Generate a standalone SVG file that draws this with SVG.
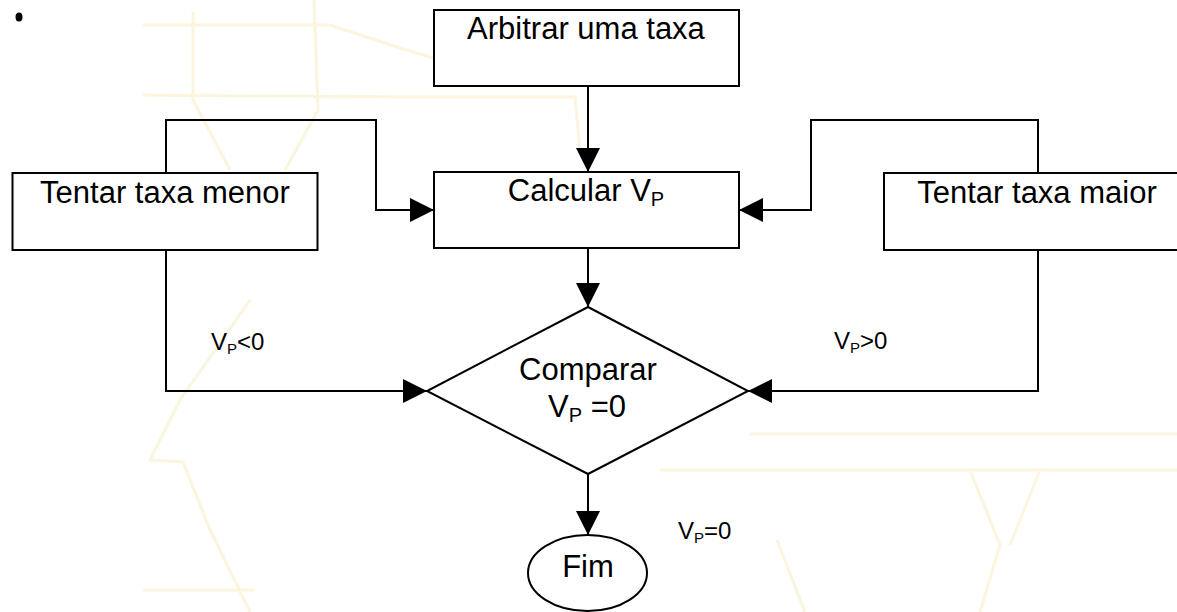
<svg xmlns="http://www.w3.org/2000/svg" width="1177" height="612" viewBox="0 0 1177 612">
<style>
  .box { fill: #ffffff; stroke: #000000; stroke-width: 2; }
  .line { fill: none; stroke: #000000; stroke-width: 2; }
  .t { font-family: "Liberation Sans", Arial, sans-serif; font-size: 31px; fill: #000000; }
  .s { font-family: "Liberation Sans", Arial, sans-serif; font-size: 24px; fill: #000000; }
  .wm { fill: none; stroke: #fbf5dd; stroke-width: 3; }
</style>
<defs>
  <marker id="arrow" markerUnits="userSpaceOnUse" markerWidth="24" markerHeight="24" refX="24" refY="12" orient="auto">
    <path d="M0,0 L24,12 L0,24 Z" fill="#000000"/>
  </marker>
</defs>
<rect x="0" y="0" width="1177" height="612" fill="#ffffff"/>
<g id="watermark">
  <path class="wm" d="M143,25 L330,25 L400,48 L433,58"/>
  <path class="wm" d="M143,95 L400,97 L575,97 L580,150"/>
  <path class="wm" d="M193,12 L193,100 L230,170"/>
  <path class="wm" d="M314,0 L318,110 L285,170"/>
  <path class="wm" d="M250,300 L180,400 L150,460 L183,462 L210,530 L250,612"/>
  <path class="wm" d="M143,590 L255,590"/>
  <path class="wm" d="M750,434 L1177,434"/>
  <path class="wm" d="M660,470 L1177,470"/>
  <path class="wm" d="M970,470 L1000,545 L980,612"/>
  <path class="wm" d="M1040,470 L1010,545"/>
  <path class="wm" d="M777,540 L805,612"/>
</g>
<ellipse id="bullet" cx="19" cy="17" rx="3.5" ry="4.5" fill="#000000"/>
<g id="connectors">
  <path class="line" d="M588,86 L588,172" marker-end="url(#arrow)"/>
  <path class="line" d="M588,248 L588,307" marker-end="url(#arrow)"/>
  <path class="line" d="M588,474 L588,535" marker-end="url(#arrow)"/>
  <path class="line" d="M166,173 L166,120 L376,120 L376,210 L434,210" marker-end="url(#arrow)"/>
  <path class="line" d="M166,250 L166,391 L427,391" marker-end="url(#arrow)"/>
  <path class="line" d="M1038,173 L1038,120 L811,120 L811,210 L739,210" marker-end="url(#arrow)"/>
  <path class="line" d="M1038,250 L1038,391 L748,391" marker-end="url(#arrow)"/>
  <text class="s" x="211" y="350">V<tspan font-size="15" dy="4">P</tspan><tspan dy="-4">&lt;0</tspan></text>
  <text class="s" x="834" y="349">V<tspan font-size="15" dy="4">P</tspan><tspan dy="-4">&gt;0</tspan></text>
  <text class="s" x="678" y="539">V<tspan font-size="15" dy="4">P</tspan><tspan dy="-4">=0</tspan></text>
</g>
<g id="arbitrar">
  <rect class="box" x="434" y="10" width="305" height="76"/>
  <text class="t" x="586" y="39" text-anchor="middle">Arbitrar uma taxa</text>
</g>
<g id="calcular">
  <rect class="box" x="434" y="172" width="305" height="76"/>
  <text class="t" x="586" y="201" text-anchor="middle">Calcular V<tspan font-size="20" dy="5">P</tspan></text>
</g>
<g id="menor">
  <rect class="box" x="12.5" y="173" width="305" height="77"/>
  <text class="t" x="165" y="203" text-anchor="middle">Tentar taxa menor</text>
</g>
<g id="maior">
  <rect class="box" x="884" y="173" width="305" height="77"/>
  <text class="t" x="1037" y="203" text-anchor="middle">Tentar taxa maior</text>
</g>
<g id="comparar">
  <polygon class="box" points="588,307 748,391 588,474 427,391"/>
  <text class="t" x="588" y="380" text-anchor="middle">Comparar</text>
  <text class="t" x="587" y="417" text-anchor="middle">V<tspan font-size="20" dy="5">P</tspan><tspan dy="-5"> =0</tspan></text>
</g>
<g id="fim">
  <ellipse class="box" cx="587.5" cy="573" rx="59.5" ry="38"/>
  <text class="t" x="588" y="577" text-anchor="middle">Fim</text>
</g>
</svg>
